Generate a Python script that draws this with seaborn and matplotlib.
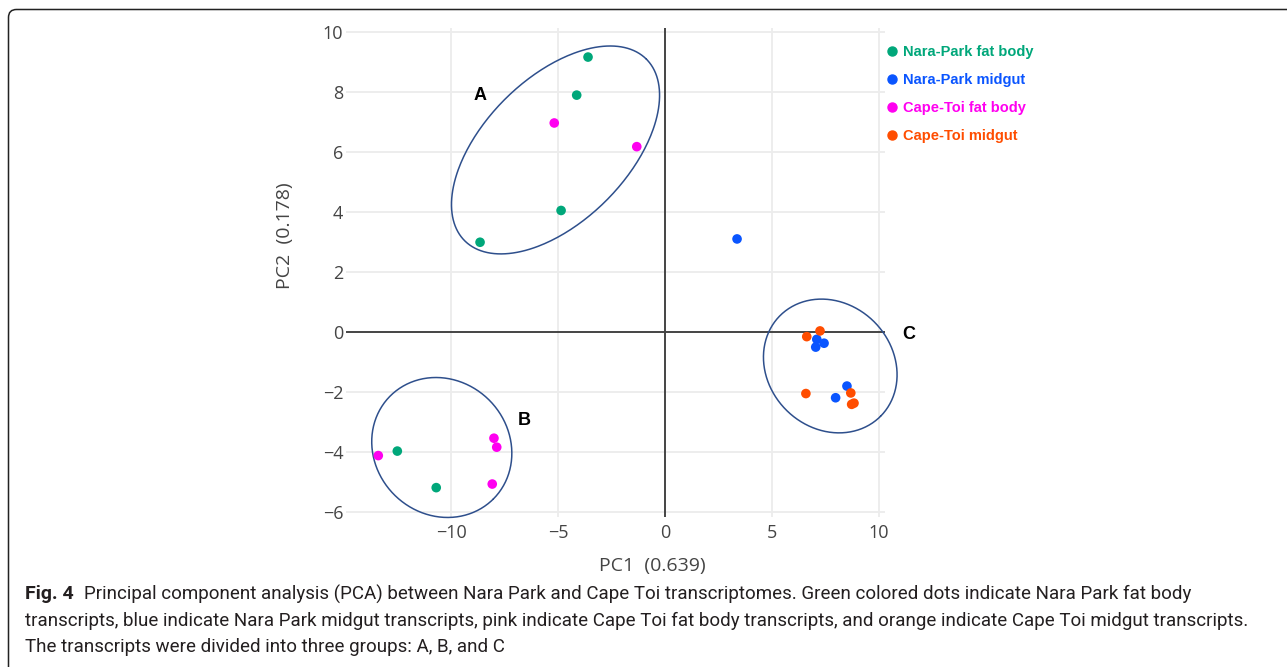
import numpy as np
import pandas as pd
import matplotlib
matplotlib.use("Agg")
import matplotlib.pyplot as plt
import seaborn as sns
from matplotlib.patches import FancyBboxPatch
from matplotlib.lines import Line2D
from matplotlib import font_manager

# ---------------- data ----------------
groups = ["Nara-Park fat body", "Nara-Park midgut", "Cape-Toi fat body", "Cape-Toi midgut"]
colors = ["#00a77a", "#0a55ff", "#ff00f0", "#ff4d00"]

np_fat_x = [-3.60, -4.13, -4.86, -8.65, -12.52, -10.70]
np_fat_y = [9.17, 7.90, 4.05, 2.99, -3.98, -5.20]
np_mid_x = [3.37, 7.10, 7.44, 7.05, 8.51, 7.98]
np_mid_y = [3.10, -0.25, -0.38, -0.51, -1.81, -2.20]
ct_fat_x = [-5.18, -1.32, -13.41, -8.00, -7.87, -8.08]
ct_fat_y = [6.97, 6.18, -4.13, -3.55, -3.85, -5.08]
ct_mid_x = [6.63, 7.25, 6.59, 8.69, 8.73, 8.84]
ct_mid_y = [-0.16, 0.03, -2.06, -2.04, -2.42, -2.38]

x_ticks = [-10, -5, 0, 5, 10]
y_ticks = [-6, -4, -2, 0, 2, 4, 6, 8, 10]
x_label = "PC1  (0.639)"
y_label = "PC2  (0.178)"

# cluster ellipses: centre, conjugate semi-axis vectors (data units)
cl_names = ["A", "B", "C"]
cl_cx = [-5.12, -10.44, 7.73]
cl_cy = [6.07, -3.86, -1.14]
cl_ux = [4.25, 2.41, 2.35]
cl_uy = [3.03, -1.72, -1.68]
cl_vx = [-2.37, 2.22, 2.06]
cl_vy = [1.69, 1.58, 1.47]
cl_lab_x = [-8.65, -6.60, 11.40]
cl_lab_y = [7.90, -2.95, -0.08]

caption_bold = "Fig. 4"
caption_lines = [
    "Principal component analysis (PCA) between Nara Park and Cape Toi transcriptomes. Green colored dots indicate Nara Park fat body",
    "transcripts, blue indicate Nara Park midgut transcripts, pink indicate Cape Toi fat body transcripts, and orange indicate Cape Toi midgut transcripts.",
    "The transcripts were divided into three groups: A, B, and C",
]

# ---------------- build frame ----------------
xs = [np_fat_x, np_mid_x, ct_fat_x, ct_mid_x]
ys = [np_fat_y, np_mid_y, ct_fat_y, ct_mid_y]
df = pd.concat([pd.DataFrame({"PC1": x, "PC2": y, "group": g}) for x, y, g in zip(xs, ys, groups)],
               ignore_index=True)

sns.set_style("white")
avail = {f.name for f in font_manager.fontManager.ttflist}
tick_font = "Open Sans" if "Open Sans" in avail else "DejaVu Sans"
bold_font = "Liberation Sans" if "Liberation Sans" in avail else "DejaVu Sans"
cap_font = "Liberation Sans Narrow" if "Liberation Sans Narrow" in avail else (
    "Roboto" if "Roboto" in avail else "DejaVu Sans")
plt.rcParams["font.family"] = [tick_font, "DejaVu Sans"]
plt.rcParams["axes.unicode_minus"] = True

W, H = 1287, 667
fig = plt.figure(figsize=(W / 100, H / 100), dpi=100)

# background frame (pixel coordinates)
bg = fig.add_axes([0, 0, 1, 1], zorder=-5)
bg.set_xlim(0, W)
bg.set_ylim(H, 0)
bg.axis("off")
bg.add_patch(FancyBboxPatch((8.5, 9.5), 1320, 700, boxstyle="round,pad=0,rounding_size=8",
                            fc="white", ec="#222222", lw=1.1))

ax = fig.add_axes([346 / W, 1 - 516.7 / H, 539 / W, 488.4 / H])
ax.set_xlim(-14.92, 10.29)
ax.set_ylim(-6.17, 10.13)
for s in ax.spines.values():
    s.set_visible(False)

# grid
for xt in x_ticks:
    if xt != 0:
        ax.axvline(xt, color="#ececec", lw=1.3, zorder=0)
for yt in y_ticks:
    if yt != 0:
        ax.axhline(yt, color="#ececec", lw=1.3, zorder=0)
ax.axhline(0, color="#444444", lw=1.4, zorder=1)
ax.axvline(0, color="#444444", lw=1.4, zorder=1)

sns.scatterplot(data=df, x="PC1", y="PC2", hue="group", palette=dict(zip(groups, colors)),
                s=48, linewidth=0, ax=ax, zorder=3, legend=False)

# ellipses + labels
t = np.linspace(0, 2 * np.pi, 300)
for i, name in enumerate(cl_names):
    ex = cl_cx[i] + cl_ux[i] * np.cos(t) + cl_vx[i] * np.sin(t)
    ey = cl_cy[i] + cl_uy[i] * np.cos(t) + cl_vy[i] * np.sin(t)
    ax.plot(ex, ey, color="#2e4f8c", lw=1.1, zorder=2, clip_on=False)
    ax.text(cl_lab_x[i], cl_lab_y[i], name, fontsize=13, fontweight="bold", family=bold_font,
            ha="center", va="center", color="black", clip_on=False)

ax.set_xticks(x_ticks)
ax.set_yticks(y_ticks)
ax.tick_params(axis="both", length=0, labelsize=13, labelcolor="#444444")
ax.tick_params(axis="y", pad=2)
ax.tick_params(axis="x", pad=5)
ax.set_xlabel(x_label, fontsize=14, color="#444444")
ax.set_ylabel(y_label, fontsize=14, color="#444444")
ax.xaxis.set_label_coords((652 - 346) / 539, (516.7 - 557) / 488.4)
ax.yaxis.set_label_coords((294 - 346) / 539, (516.7 - 236) / 488.4)

# legend
handles = [Line2D([], [], marker="o", ls="", color=c, markersize=6.5) for c in colors]
leg = fig.legend(handles, groups, loc="upper left", bbox_to_anchor=(870 / W, 1 - 32 / H),
                 frameon=False, handletextpad=0.15, handlelength=1.2, labelspacing=0.95,
                 prop={"family": bold_font, "weight": "bold", "size": 10.5})
for txt, c in zip(leg.get_texts(), colors):
    txt.set_color(c)

# caption
fig.canvas.draw()
r = fig.canvas.get_renderer()
cap_size = 12.5
probe = fig.text(0, 0, caption_lines[1], fontsize=cap_size, family=cap_font)
wpx = probe.get_window_extent(r).width
probe.remove()
cap_size = min(13.5, cap_size * 1237 / wpx)
line_y = [594, 621, 647]
tb = fig.text(25 / W, 1 - line_y[0] / H, caption_bold, fontsize=cap_size + 0.5, fontweight="bold",
              family=cap_font, va="center", ha="left", color="#231f20")
bb = tb.get_window_extent(r)
fig.text((bb.x1 + 10) / W, 1 - line_y[0] / H, caption_lines[0], fontsize=cap_size, family=cap_font,
         va="center", ha="left", color="#231f20")
for ln, yy in zip(caption_lines[1:], line_y[1:]):
    fig.text(25 / W, 1 - yy / H, ln, fontsize=cap_size, family=cap_font, va="center", ha="left",
             color="#231f20")

fig.savefig("out.png", dpi=100)
